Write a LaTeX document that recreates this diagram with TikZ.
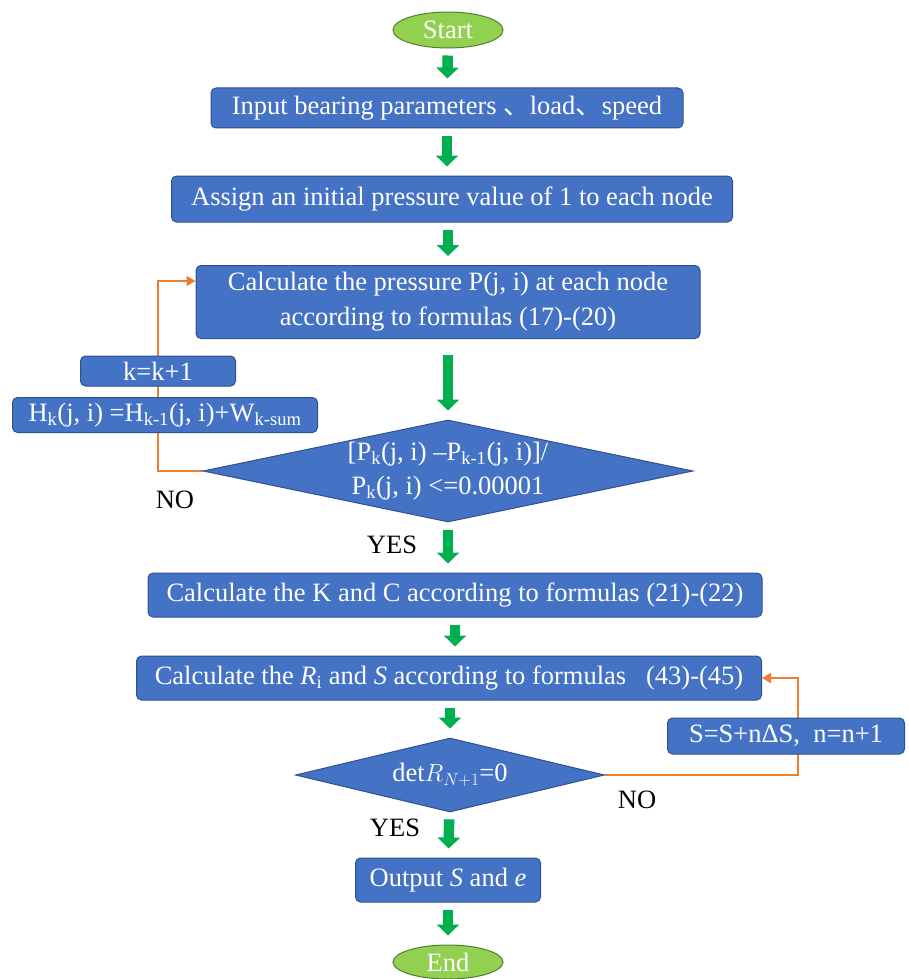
\documentclass[tikz,border=0pt]{standalone}
\usepackage{fontspec}
\setmainfont{Liberation Serif}
\newfontfamily\cjk{Noto Sans CJK SC}
\usetikzlibrary{arrows.meta,shapes.geometric,calc,backgrounds}

\definecolor{boxblue}{HTML}{4472C4}
\definecolor{boxedge}{HTML}{2F528F}
\definecolor{arrowgreen}{HTML}{00B050}
\definecolor{startgreen}{HTML}{92D050}
\definecolor{startedge}{HTML}{507E32}
\definecolor{looporange}{HTML}{ED7D31}

\begin{document}
\begin{tikzpicture}[x=1pt,y=-1pt,
  blockbox/.style={draw=boxedge,line width=1pt,fill=boxblue,rounded corners=5pt,
    text=white,align=center,inner sep=0pt,font=\fontsize{26.5}{35}\selectfont},
  decision/.style={diamond,draw=boxedge,line width=1pt,fill=boxblue,inner sep=0pt},
  decisiontext/.style={text=white,align=center,inner sep=0pt,font=\fontsize{26.5}{34}\selectfont},
  terminal/.style={ellipse,draw=startedge,line width=1pt,fill=startgreen,
    text=white,inner sep=0pt,font=\fontsize{26.5}{30}\selectfont},
  flowarrow/.style={arrowgreen,line width=10.5pt,-{Triangle[length=11pt,width=22pt]},
    shorten <=7pt,shorten >=9pt},
  loopline/.style={looporange,line width=2.5pt,-{Triangle[length=9pt,width=10pt]}},
  yesno/.style={font=\fontsize{26.5}{30}\selectfont}]

\useasboundingbox (0,0) rectangle (908,979);

% Start
\node[terminal,minimum width=110pt,minimum height=36pt] (start) at (448,30) {Start};

% Eingabe
\node[blockbox,minimum width=472pt,minimum height=40pt] (input) at (447,108)
  {Input bearing parameters {\cjk 、}load{\cjk 、}speed};
\node[blockbox,minimum width=561pt,minimum height=46pt] (init) at (452,199)
  {Assign an initial pressure value of 1 to each node};
\node[blockbox,minimum width=504pt,minimum height=73pt] (press) at (448,302)
  {Calculate the pressure P(j, i) at each node\\according to formulas (17)-(20)};

% Iteration
\node[blockbox,minimum width=155pt,minimum height=30pt] (kstep) at (158,371) {k=k+1};
\node[blockbox,minimum width=305pt,minimum height=35pt] (hstep) at (165,415)
  {H\textsubscript{k}(j, i) =H\textsubscript{k-1}(j, i)+W\textsubscript{k-sum}};
\node[decision,minimum width=490pt,minimum height=102pt] (conv) at (448,471) {};
\node[decisiontext] (convtext) at (conv.center)
  {[P\textsubscript{k}(j, i) --P\textsubscript{k-1}(j, i)]/\\P\textsubscript{k}(j, i) <=0.00001};
\node[yesno] (convno) at (175,500) {NO};
\node[yesno] (convyes) at (392,545) {YES};

% Steifigkeit
\node[blockbox,minimum width=614pt,minimum height=44pt] (kc) at (455,595)
  {Calculate the K and C according to formulas (21)-(22)};
\node[blockbox,minimum width=625pt,minimum height=44pt] (rs) at (449,678)
  {Calculate the \textit{R}\textsubscript{i} and \textit{S} according to formulas\ \ \ (43)-(45)};
\node[blockbox,minimum width=237pt,minimum height=36pt] (sstep) at (786,736)
  {S=S+nΔS,\ \ n=n+1};
\node[decision,minimum width=309pt,minimum height=74pt] (det) at (450,775) {};
\node[decisiontext] (dettext) at (det.center) {det$R_{N+1}$=0};
\node[yesno] (detno) at (637,800) {NO};
\node[yesno] (detyes) at (395,828) {YES};

% Ausgabe
\node[blockbox,minimum width=185pt,minimum height=44pt] (out) at (448,880)
  {Output \textit{S} and \textit{e}};
\node[terminal,minimum width=110pt,minimum height=34pt] (end) at (448,962) {End};

% Pfeile
\draw[flowarrow] (start) -- (input);
\draw[flowarrow] (input) -- (input |- init.north);
\draw[flowarrow] (init.south -| press) -- (press);
\draw[flowarrow,shorten <=16pt] (press) -- (conv);
\draw[flowarrow] (conv) -- (conv |- kc.north);
\draw[flowarrow] (kc) -- (kc |- rs.north);
\draw[flowarrow] (rs.south -| det) -- (det);
\draw[flowarrow] (det) -- (out);
\draw[flowarrow] (out) -- (end);

% Rueckfuehrungen
\begin{scope}[on background layer]
\draw[loopline] (conv.west) -| (kstep.center) |- ($(press.west)+(0,-21)$);
\draw[loopline] (det.east) -| ($(sstep.center)+(12,0)$) |- (rs.east);
\end{scope}

\end{tikzpicture}
\end{document}
